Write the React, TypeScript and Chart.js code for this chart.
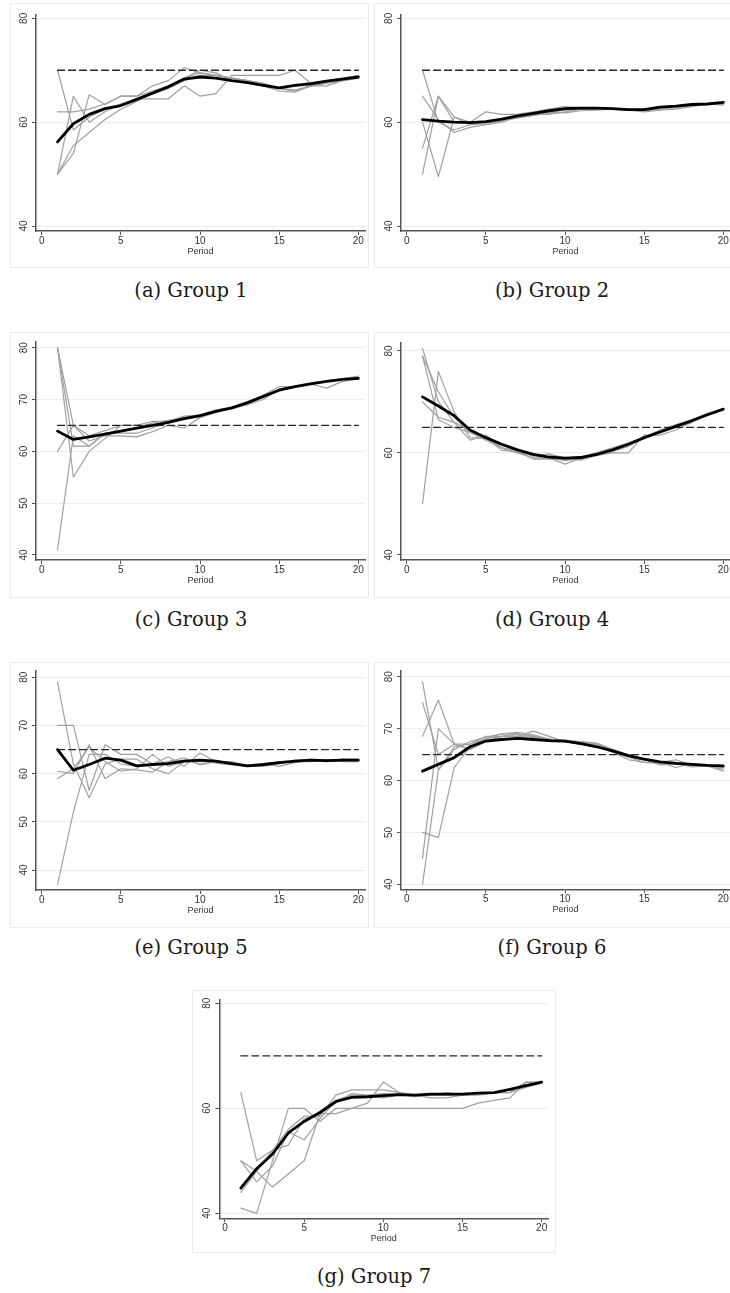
import React, { useEffect, useRef } from "react";
import { Chart, registerables } from "chart.js";

Chart.register(...registerables);

// ---------- data ----------
const periods = [1, 2, 3, 4, 5, 6, 7, 8, 9, 10, 11, 12, 13, 14, 15, 16, 17, 18, 19, 20];
const xTickValues = [0, 5, 10, 15, 20];
const yTicksCoarse = [40, 60, 80];
const yTicksFine = [40, 50, 60, 70, 80];
const xTitle = "Period";
const captions = ["(a) Group 1", "(b) Group 2", "(c) Group 3", "(d) Group 4", "(e) Group 5", "(f) Group 6", "(g) Group 7"];
const equilibrium = [70, 70, 65, 65, 65, 65, 70];

const group1Mean = [56.2, 59.7, 61.5, 62.6, 63.2, 64.4, 65.6, 66.8, 68.3, 68.7, 68.5, 68.0, 67.6, 67.1, 66.6, 67.1, 67.4, 67.9, 68.3, 68.7];
const group1Subjects = [
  [70, 58.5, 61, 62.5, 63.5, 64.5, 65.5, 67, 68.5, 69.5, 69, 68.5, 68, 67.5, 66.5, 66, 67, 67.5, 68, 68.5],
  [50, 65, 60, 62, 63.5, 64.5, 64.5, 64.5, 67, 65, 65.5, 69, 69, 69, 69, 70, 67.5, 68, 68.5, 69],
  [62, 62, 62.5, 63.5, 65, 65, 67, 68, 70.5, 69.5, 69, 68.5, 68, 67.5, 66.5, 66.2, 67, 67.5, 68, 68.8],
  [50, 54, 65.3, 63.4, 65, 65, 66, 67, 68.5, 70, 69.5, 68, 67.5, 67, 66, 65.8, 67, 67, 68, 68.5],
  [50, 55.5, 58, 60.5, 62.5, 64, 65.5, 66.5, 68, 69, 69, 68.5, 68, 67, 66.5, 66, 67, 67.8, 68.5, 68.7],
];

const group2Mean = [60.5, 60.2, 60.0, 59.9, 60.1, 60.6, 61.2, 61.7, 62.2, 62.6, 62.7, 62.7, 62.6, 62.4, 62.4, 62.9, 63.1, 63.4, 63.5, 63.8];
const group2Subjects = [
  [70, 60, 58.5, 59.5, 60, 60.5, 61, 61.5, 62, 62.3, 62.5, 62.5, 62.5, 62.3, 62.2, 62.5, 63, 63.3, 63.5, 63.8],
  [65, 60.5, 58, 59, 59.5, 60, 61, 61.5, 61.5, 62, 62.5, 62.5, 62.5, 62.3, 62, 62.3, 62.5, 63, 63.5, 63.5],
  [55, 65, 60, 60, 62, 61.5, 61.5, 62, 62.5, 63, 62.8, 62.8, 62.6, 62.4, 62.3, 62.8, 63, 63.5, 63.5, 63.5],
  [50, 65, 61, 59.5, 59.5, 60.3, 60.8, 61.3, 61.7, 62.5, 62.5, 62.5, 62.5, 62.5, 62.5, 63, 63, 63.3, 63.5, 63.8],
  [60, 49.5, 61, 60, 59.8, 60.3, 60.8, 61.3, 62, 61.8, 62.2, 62.3, 62.5, 62.3, 62.2, 62.5, 62.8, 63.2, 63.5, 63.3],
];

const group3Mean = [63.9, 62.3, 62.8, 63.3, 63.9, 64.5, 65.0, 65.6, 66.3, 66.9, 67.7, 68.4, 69.4, 70.6, 71.8, 72.5, 73.0, 73.5, 73.9, 74.1];
const group3Subjects = [
  [80, 61, 61, 63.5, 63.5, 63.5, 64.5, 65.5, 66.5, 66.5, 67.5, 68.5, 69, 70, 72, 72.5, 73, 73.5, 74, 74.3],
  [80, 65, 63, 64, 65, 65, 65.8, 65.8, 66.8, 67, 68, 68.5, 69.5, 70.8, 72.5, 72.5, 73, 73.5, 74, 74.5],
  [60, 65, 62, 63, 63, 62.8, 63.8, 65, 64.5, 66.5, 67.8, 68.2, 69, 70.5, 72, 72.5, 73, 72.2, 73.5, 74],
  [41, 63, 61, 63.5, 64, 64.5, 65.5, 66, 66.5, 67, 67.5, 68.3, 69.3, 70.5, 71.8, 72.4, 73, 73.5, 74, 74.2],
  [80, 55, 60, 62.5, 65, 65, 65, 65.6, 66.3, 66.8, 67.6, 68.3, 69.2, 70.6, 71.8, 72.6, 73.2, 73.6, 74, 74.3],
];

const group4Mean = [71.0, 69.2, 67.3, 64.5, 63.0, 61.7, 60.6, 59.7, 59.2, 59.0, 59.1, 59.7, 60.6, 61.7, 63.0, 64.1, 65.2, 66.3, 67.5, 68.6];
const group4Subjects = [
  [80.5, 70, 66, 64.5, 63, 61, 60, 59.5, 59, 58.5, 59, 59.5, 60.5, 61.5, 63, 64.5, 65.5, 66.5, 67.5, 68.5],
  [79, 72, 67, 64, 62.5, 61, 60, 59, 59, 57.8, 59, 59.5, 60, 60, 63.5, 63.5, 64.5, 66, 67.5, 68.5],
  [70, 67, 66, 62.5, 63.5, 61, 60.5, 59.5, 59.8, 59, 59.3, 60, 61, 62, 63, 64.5, 65.5, 66.5, 67.8, 68.6],
  [50, 76, 68, 63, 62.8, 61.5, 60.5, 59.3, 59, 58.8, 58.8, 59.6, 60.5, 61.6, 62.8, 64, 65.2, 66.3, 67.5, 68.6],
  [79, 66.5, 65, 64, 63, 60.5, 60.3, 58.8, 58.8, 58.8, 58.6, 59.5, 60.3, 61.3, 63, 64, 65, 66.5, 67.5, 68.5],
];

const group5Mean = [65.0, 60.7, 61.9, 63.2, 62.8, 61.6, 61.9, 62.1, 62.6, 62.8, 62.6, 62.1, 61.6, 61.9, 62.3, 62.6, 62.8, 62.7, 62.8, 62.8];
const group5Subjects = [
  [79, 62, 55, 62, 63, 63, 61, 60, 62.5, 62.5, 62.5, 62.5, 61.5, 62, 62.5, 62.5, 63, 62.5, 63, 62.8],
  [70, 70, 56.5, 66, 64, 64, 62, 63.5, 61.5, 64.3, 62.5, 62, 61.5, 61.5, 62, 62.8, 62.8, 62.8, 62.5, 62.5],
  [60.5, 60, 66, 59, 61, 60.8, 60.3, 62.5, 62.8, 62, 62.5, 62, 61.5, 62, 61.5, 62.3, 62.8, 62.5, 63, 63],
  [59, 61, 65.5, 62.5, 60.5, 61, 64, 61.5, 62.5, 62.8, 62.2, 61.8, 61.8, 61.8, 62.2, 62.5, 62.5, 62.8, 62.8, 62.8],
  [37, 52, 64, 64, 62, 61.5, 62, 62.5, 63.3, 61.8, 62.5, 62.3, 61.5, 62, 62.2, 62.6, 62.8, 62.6, 62.6, 62.8],
];

const group6Mean = [61.8, 63.1, 64.4, 66.5, 67.6, 67.9, 68.1, 67.9, 67.7, 67.6, 67.1, 66.5, 65.7, 64.8, 64.1, 63.6, 63.3, 63.1, 62.9, 62.8];
const group6Subjects = [
  [79, 62, 66.5, 67, 68, 69, 69, 68.5, 68, 67.5, 67, 67, 66, 65, 64, 63.5, 63.5, 63, 63, 62.5],
  [75, 65, 67, 67, 68.5, 68.5, 68.5, 69.5, 68.5, 67.5, 67.5, 67.2, 66, 64.5, 64, 63.5, 64, 63, 63, 62.5],
  [68.5, 75.5, 67, 66, 67.5, 68.5, 69, 68.5, 67.5, 67.5, 67, 66.5, 65.5, 64.5, 63.5, 63.5, 62.5, 63.3, 62.8, 61.8],
  [50, 49, 62.5, 66.5, 68, 68.5, 68.5, 68, 68, 67.5, 67.3, 66.8, 65.5, 64.8, 64, 63, 63.2, 62.8, 62.8, 62.8],
  [45, 70, 67, 66, 67.5, 68.5, 68.5, 68.3, 67.8, 67.8, 67.5, 67, 65.8, 64.5, 64, 63.5, 63.5, 63.2, 63, 62.5],
  [40, 62, 66, 67.5, 68.3, 69, 69.3, 68.8, 68, 67.5, 67.5, 66.5, 65.5, 64, 63.5, 63.3, 63.3, 62.6, 62.8, 62.2],
];

const group7Mean = [44.8, 48.5, 51.3, 55.3, 57.5, 59.2, 61.3, 62.1, 62.2, 62.4, 62.6, 62.5, 62.7, 62.7, 62.7, 62.9, 63.0, 63.6, 64.3, 65.0];
const group7Subjects = [
  [63, 50, 52, 56, 58.5, 58.5, 62.5, 63.5, 63.5, 63.5, 63, 62.5, 62, 62, 62.5, 63, 63, 63.5, 64.5, 65],
  [50, 48, 45, 47.5, 50, 59, 59, 60, 61, 65, 63, 62.5, 62.5, 62.5, 62.5, 63, 63, 63, 65, 65],
  [41, 40, 50, 60, 60, 57.5, 60, 60, 60, 60, 60, 60, 60, 60, 60, 61, 61.5, 62, 65, 64.8],
  [50, 46, 49, 55.5, 54, 58, 61.5, 62.5, 62.3, 62, 62.5, 62.3, 62.5, 63, 62.5, 62.5, 63, 63, 64, 64.8],
  [44, 48, 52, 53, 58, 59, 61, 62.8, 62.5, 62.8, 62.7, 62.2, 62.5, 62.5, 62.6, 63, 63, 63.5, 64.2, 65],
];

const groupMeans = [group1Mean, group2Mean, group3Mean, group4Mean, group5Mean, group6Mean, group7Mean];
const groupSubjects = [group1Subjects, group2Subjects, group3Subjects, group4Subjects, group5Subjects, group6Subjects, group7Subjects];

// ---------- layout (positions only) ----------
type Rect = { l: number; t: number; r: number; b: number };
type PanelLayout = { box: Rect; plot: Rect; yMin: number; yMax: number; fine: boolean; cx: number; cy: number };

const layouts: PanelLayout[] = [
  { box: { l: 10, t: 3, r: 369, b: 268 }, plot: { l: 36, t: 15, r: 365, b: 231 }, yMin: 39.04, yMax: 80.64, fine: false, cx: 191, cy: 291 },
  { box: { l: 374, t: 3, r: 731, b: 268 }, plot: { l: 401, t: 15, r: 730, b: 231 }, yMin: 39.04, yMax: 80.64, fine: false, cx: 552, cy: 291 },
  { box: { l: 10, t: 332, r: 369, b: 598 }, plot: { l: 36, t: 341.7, r: 365, b: 560 }, yMin: 39.03, yMax: 81.16, fine: true, cx: 191, cy: 620 },
  { box: { l: 374, t: 332, r: 731, b: 598 }, plot: { l: 401, t: 342.3, r: 730, b: 560 }, yMin: 39.0, yMax: 81.7, fine: false, cx: 552, cy: 620 },
  { box: { l: 10, t: 662, r: 369, b: 928 }, plot: { l: 36, t: 670, r: 365, b: 890 }, yMin: 35.86, yMax: 81.4, fine: true, cx: 191, cy: 948 },
  { box: { l: 374, t: 662, r: 731, b: 928 }, plot: { l: 401, t: 671, r: 730, b: 889.3 }, yMin: 39.03, yMax: 81.1, fine: true, cx: 552, cy: 948 },
  { box: { l: 192, t: 990, r: 556, b: 1253 }, plot: { l: 219.3, t: 1000, r: 548.3, b: 1218.3 }, yMin: 39.05, yMax: 80.63, fine: false, cx: 374, cy: 1277 },
];

const X_MIN = -0.36;
const X_MAX = 20.42;
const X_SCALE_H = 26;
const SANS = "'Liberation Sans', Arial, Helvetica, sans-serif";

function Panel({ idx }: { idx: number }) {
  const ref = useRef<HTMLCanvasElement | null>(null);
  const lay = layouts[idx];
  const w = lay.box.r - lay.box.l;
  const h = lay.box.b - lay.box.t;

  useEffect(() => {
    if (!ref.current) return;
    const mean = groupMeans[idx];
    const subs = groupSubjects[idx];
    const eq = equilibrium[idx];
    const yTicks = lay.fine ? yTicksFine : yTicksCoarse;
    const yW = lay.plot.l - lay.box.l;
    const padT = lay.plot.t - lay.box.t;
    const padR = lay.box.r - lay.plot.r;
    const padB = lay.box.b - lay.plot.b - X_SCALE_H;

    const datasets: any[] = [
      {
        data: periods.map((x, i) => ({ x, y: mean[i] })),
        borderColor: "#000000",
        borderWidth: 2.8,
        order: 0,
      },
      {
        data: periods.map((x) => ({ x, y: eq })),
        borderColor: "#262626",
        borderWidth: 1.3,
        borderDash: [7, 4],
        order: 1,
      },
      ...subs.map((s) => ({
        data: periods.map((x, i) => ({ x, y: s[i] })),
        borderColor: "#a0a0a0",
        borderWidth: 1.2,
        order: 2,
      })),
    ];

    const chart = new Chart(ref.current, {
      type: "line",
      data: { datasets },
      options: {
        animation: false,
        responsive: false,
        devicePixelRatio: 1,
        layout: { padding: { left: 0, top: padT, right: padR, bottom: padB } },
        plugins: { legend: { display: false }, tooltip: { enabled: false } },
        elements: {
          point: { radius: 0 },
          line: { tension: 0, borderJoinStyle: "round", borderCapStyle: "round" },
        },
        scales: {
          x: {
            type: "linear",
            min: X_MIN,
            max: X_MAX,
            afterBuildTicks: (s: any) => {
              s.ticks = xTickValues.map((v) => ({ value: v }));
            },
            afterFit: (s: any) => {
              s.height = X_SCALE_H;
            },
            grid: { drawOnChartArea: false, drawTicks: true, tickLength: 4, tickColor: "#555555", lineWidth: 1 },
            border: { display: true, color: "#555555", width: 1.5 },
            ticks: { padding: 0, color: "#333333", font: { family: SANS, size: 10 }, minRotation: 0, maxRotation: 0 },
            title: { display: true, text: xTitle, color: "#333333", font: { family: SANS, size: 9 }, padding: 0 },
          },
          y: {
            type: "linear",
            min: lay.yMin,
            max: lay.yMax,
            afterBuildTicks: (s: any) => {
              s.ticks = yTicks.map((v) => ({ value: v }));
            },
            afterFit: (s: any) => {
              s.width = yW;
            },
            grid: { color: "#ececec", lineWidth: 1, drawTicks: true, tickLength: 4, tickColor: "#555555" },
            border: { display: true, color: "#555555", width: 1.5 },
            ticks: {
              padding: 2.5,
              minRotation: 90,
              maxRotation: 90,
              crossAlign: "center",
              color: "#333333",
              font: { family: SANS, size: 10 },
            },
          },
        },
      } as any,
    });
    return () => chart.destroy();
  }, [idx]);

  return (
    <>
      <div
        style={{
          position: "absolute",
          left: lay.box.l,
          top: lay.box.t,
          width: w,
          height: h,
          boxSizing: "border-box",
          border: "1px solid #ebebeb",
        }}
      />
      <canvas
        ref={ref}
        width={w}
        height={h}
        style={{ position: "absolute", left: lay.box.l, top: lay.box.t, width: w, height: h }}
      />
      <div
        style={{
          position: "absolute",
          left: lay.cx - 120,
          top: lay.cy - 12,
          width: 240,
          height: 24,
          lineHeight: "24px",
          textAlign: "center",
          fontFamily: "'DejaVu Serif', serif",
          fontSize: 19.5,
          color: "#1a1a1a",
          whiteSpace: "nowrap",
        }}
      >
        {captions[idx]}
      </div>
    </>
  );
}

export default function App() {
  return (
    <div
      style={{
        position: "absolute",
        left: 0,
        top: 0,
        width: 730,
        height: 1293,
        background: "#ffffff",
        overflow: "hidden",
      }}
    >
      {layouts.map((_, i) => (
        <Panel key={i} idx={i} />
      ))}
    </div>
  );
}
